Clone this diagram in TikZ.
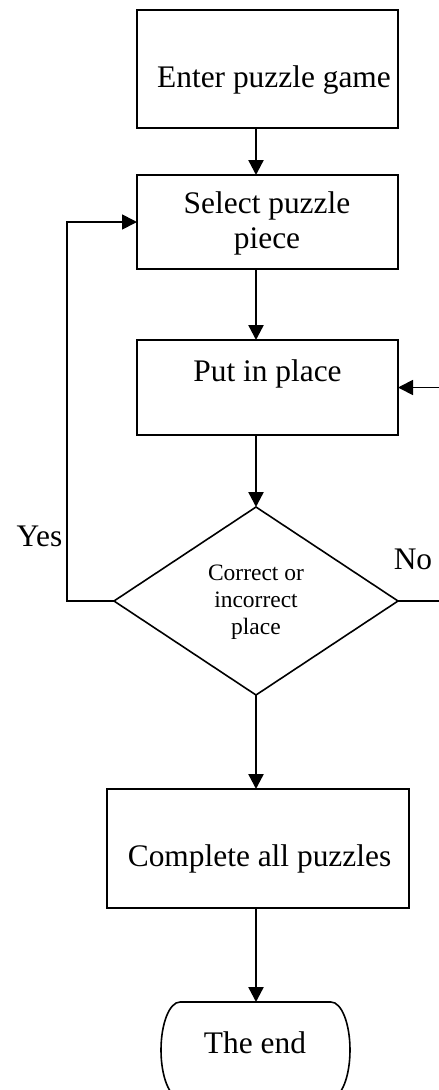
\documentclass[tikz,border=0pt]{standalone}
\usepackage{fontspec}
\setmainfont{Liberation Serif}
\usetikzlibrary{arrows.meta}

\begin{document}
\begin{tikzpicture}[x=1pt,y=-1pt,
  box/.style={draw, line width=1.8pt, rectangle, inner sep=0pt, outer sep=0pt},
  txt/.style={inner sep=0pt, outer sep=0pt, anchor=base, align=center,
              font=\fontsize{31.4}{35}\selectfont},
  smalltxt/.style={inner sep=0pt, outer sep=0pt, anchor=base, align=center,
              font=\fontsize{23.5}{27}\selectfont},
  arr/.style={line width=2.4pt, -{Triangle[length=15pt,width=15pt]}},
  loopline/.style={line width=1.8pt, -{Triangle[length=15pt,width=15pt]}},
]
\useasboundingbox (0,0) rectangle (439,1090);
\clip (0,0) rectangle (439,1090);

% process boxes
\node[box, minimum width=261, minimum height=118] (b1) at (267.5,69) {};
\node[box, minimum width=261, minimum height=94]  (b2) at (267.5,222) {};
\node[box, minimum width=261, minimum height=95]  (b3) at (267.5,387.5) {};
\node[box, minimum width=302, minimum height=119] (b5) at (258,848.5) {};

% box labels (multi-line nodes are anchored at the baseline of their last line)
\node[txt] (t1) at (274,87) {Enter puzzle game};
\node[txt] (t2) at (267,248) {Select puzzle\\piece};
\node[txt] (t3) at (267.5,381) {Put in place};
\node[txt] (t5) at (259.5,866) {Complete all puzzles};

% decision diamond
\coordinate (dtop)   at (256,507);
\coordinate (dleft)  at (114,601);
\coordinate (dright) at (398,601);
\coordinate (dbot)   at (256,695);
\draw[line width=1.6pt, line join=miter] (dtop) -- (dright) -- (dbot) -- (dleft) -- cycle;
\node[smalltxt] (dq) at (256,634) {Correct or\\incorrect\\place};

% terminal
\node[inner sep=0pt, outer sep=0pt, minimum width=190, minimum height=96] (tend) at (255.5,1050) {};
\draw[line width=1.6pt] (180,1002) -- (331,1002)
  arc[start angle=-90, end angle=90, x radius=19, y radius=48]
  -- (180,1098)
  arc[start angle=90, end angle=270, x radius=19, y radius=48] -- cycle;
\node[txt] (te) at (255,1053) {The end};

% branch labels
\node[txt] (yes) at (39.5,546) {Yes};
\node[txt] (no)  at (413,569) {No};

% main flow
\draw[arr] (b1.south -| dtop) -- (b2.north -| dtop);
\draw[arr] (b2.south -| dtop) -- (b3.north -| dtop);
\draw[arr] (b3.south -| dtop) -- (dtop);
\draw[arr] (dbot) -- (b5.north -| dtop);
\draw[arr] (b5.south -| dtop) -- (tend.north -| dtop);

% loops back
\coordinate (ycorner) at (67,601);
\coordinate (ncorner) at (470,601);
\draw[loopline] (dleft) -- (ycorner) |- (b2.west);
\draw[loopline] (dright) -- (ncorner) |- (b3.east);
\end{tikzpicture}
\end{document}
